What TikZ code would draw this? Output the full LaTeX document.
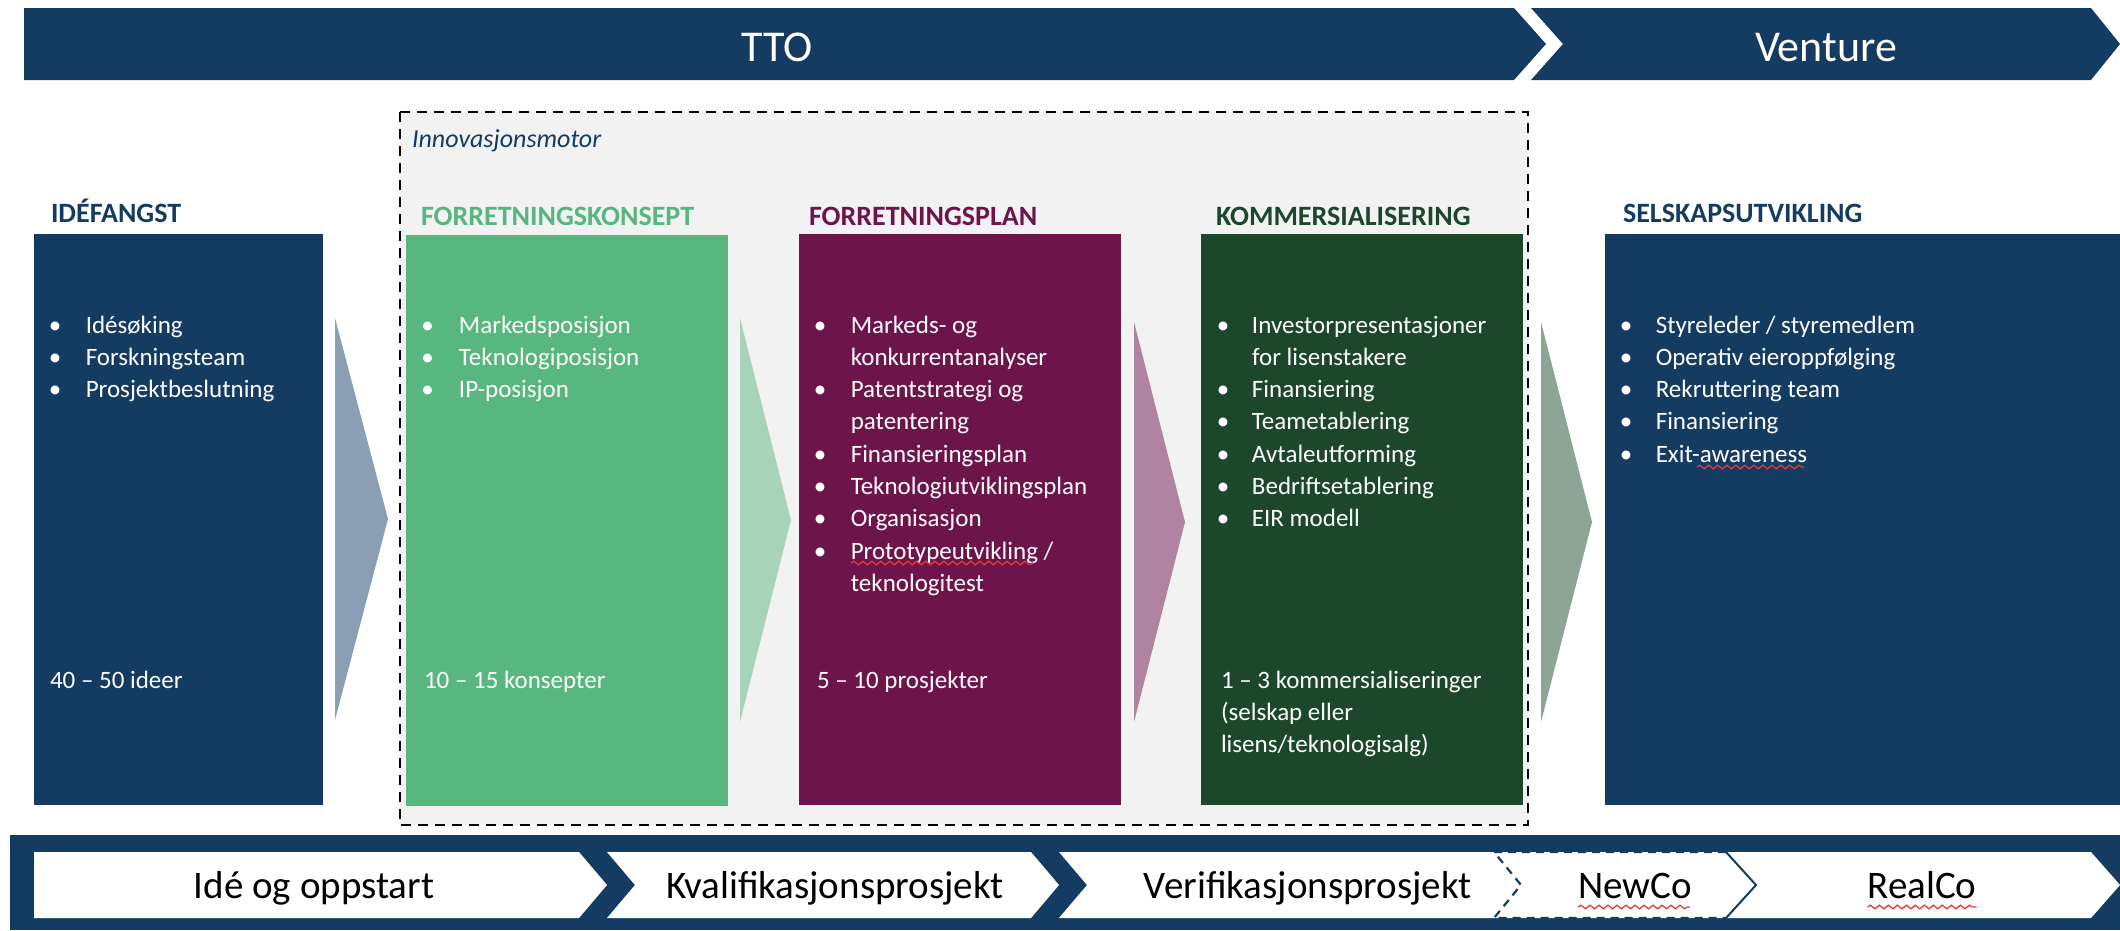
\documentclass[tikz,border=0pt]{standalone}
\usepackage{fontspec}
\setmainfont{Carlito}
\usetikzlibrary{decorations.pathmorphing}
\definecolor{navy}{HTML}{143C62}
\definecolor{kgreen}{HTML}{58B67F}
\definecolor{plum}{HTML}{6D144B}
\definecolor{dgreen}{HTML}{1C472B}
\definecolor{arrA}{HTML}{8A9FB4}
\definecolor{arrB}{HTML}{A7D4B8}
\definecolor{arrC}{HTML}{B083A0}
\definecolor{arrD}{HTML}{8DA594}
\definecolor{motorgray}{HTML}{F2F2F2}
\definecolor{spellred}{HTML}{E03C3C}
\begin{document}
\begin{tikzpicture}[x=1pt,y=-1pt,
  every node/.style={inner sep=0pt,outer sep=0pt},
  banner/.style={fill=navy},
  chev/.style={fill=white},
  hdr/.style={anchor=base west,font=\fontsize{28}{32}\selectfont\bfseries},
  lst/.style={anchor=base west,text=white,font=\fontsize{25}{32.3}\selectfont},
  toplbl/.style={anchor=base,text=white,font=\fontsize{44}{50}\selectfont},
  botlbl/.style={anchor=base,text=black,font=\fontsize{39}{45}\selectfont},
  spell/.style={draw=spellred,line width=1.3pt,decorate,decoration={snake,segment length=9pt,amplitude=1.8pt}},
  motorbox/.style={fill=motorgray,draw=black,line width=2.2pt,dash pattern=on 10pt off 7pt}]
\useasboundingbox (0,0) rectangle (2120,930);

% ---------- top banners
\path[banner] (24,8) -- (1514,8) -- (1546,44) -- (1514,80) -- (24,80) -- cycle;
\path[banner] (1531,8) -- (2091,8) -- (2120,44) -- (2091,80) -- (1531,80) -- (1563,44) -- cycle;
\node[toplbl] (tto) at (777,61) {TTO};
\node[toplbl] (venture) at (1826,61) {Venture};

% ---------- innovasjonsmotor area
\path[motorbox] (400,112) rectangle (1528,825);
\node[anchor=base west,text=navy,font=\fontsize{26}{30}\selectfont\itshape] (motor) at (412,147) {Innovasjonsmotor};

% ---------- phase boxes
\fill[navy]   (34,234) rectangle (323,805);
\fill[kgreen] (406,235) rectangle (728,806);
\fill[plum]   (799,234) rectangle (1121,805);
\fill[dgreen] (1201,234) rectangle (1523,805);
\fill[navy]   (1605,234) rectangle (2120,805);

% ---------- thin arrows
\fill[arrA] (335,318) -- (388,519) -- (335,720) -- cycle;
\fill[arrB] (740,318) -- (791,520) -- (740,722) -- cycle;
\fill[arrC] (1134,322) -- (1185,522) -- (1134,722) -- cycle;
\fill[arrD] (1541,322) -- (1592,522) -- (1541,722) -- cycle;

% ---------- headers
\node[hdr,text=navy]   (h1) at (51,222)   {IDÉFANGST};
\node[hdr,text=kgreen] (h2) at (421,225)  {FORRETNINGSKONSEPT};
\node[hdr,text=plum]   (h3) at (809,225)  {FORRETNINGSPLAN};
\node[hdr,text=dgreen] (h4) at (1216,225) {KOMMERSIALISERING};
\node[hdr,text=navy]   (h5) at (1623,222) {SELSKAPSUTVIKLING};

% ---------- bullet lists
\node[lst] (l1) at (48.8,333) {\begin{tabular}[t]{@{}p{37pt}@{}l@{}}
•&Idésøking\\ •&Forskningsteam\\ •&Prosjektbeslutning\end{tabular}};
\node[lst] (l2) at (421.3,333) {\begin{tabular}[t]{@{}p{37.7pt}@{}l@{}}
•&Markedsposisjon\\ •&Teknologiposisjon\\ •&IP-posisjon\end{tabular}};
\node[lst] (l3) at (813.8,333) {\begin{tabular}[t]{@{}p{37pt}@{}l@{}}
•&Markeds- og\\ &konkurrentanalyser\\ •&Patentstrategi og\\ &patentering\\
•&Finansieringsplan\\ •&Teknologiutviklingsplan\\ •&Organisasjon\\
•&Prototypeutvikling /\\ &teknologitest\end{tabular}};
\node[lst] (l4) at (1216.8,333) {\begin{tabular}[t]{@{}p{35.2pt}@{}l@{}}
•&Investorpresentasjoner\\ &for lisenstakere\\ •&Finansiering\\ •&Teametablering\\
•&Avtaleutforming\\ •&Bedriftsetablering\\ •&EIR modell\end{tabular}};
\node[lst] (l5) at (1619.8,333) {\begin{tabular}[t]{@{}p{36pt}@{}l@{}}
•&Styreleder / styremedlem\\ •&Operativ eieroppfølging\\ •&Rekruttering team\\
•&Finansiering\\ •&Exit-awareness\end{tabular}};

% ---------- counts
\node[lst] (c1) at (50,688)   {40 – 50 ideer};
\node[lst] (c2) at (424,688)  {10 – 15 konsepter};
\node[lst] (c3) at (817,688)  {5 – 10 prosjekter};
\node[lst] (c4) at (1221,688) {\begin{tabular}[t]{@{}l@{}}1 – 3 kommersialiseringer\\ (selskap eller\\ lisens/teknologisalg)\end{tabular}};

% ---------- bottom band
\fill[navy] (10,835) rectangle (2120,930);
\path[chev] (34,852) -- (579,852) -- (607,885) -- (579,918) -- (34,918) -- cycle;
\path[chev] (607,852) -- (1031,852) -- (1059,885) -- (1031,918) -- (607,918) -- (635,885) -- cycle;
\path[chev] (1059,852) -- (2091,852) -- (2120,885) -- (2091,918) -- (1059,918) -- (1087,885) -- cycle;
\draw[navy,line width=2.2pt,dash pattern=on 8pt off 6pt] (1726,852) -- (1494,852) -- (1521,885) -- (1494,918) -- (1726,918);
\draw[navy,line width=2pt] (1726,852) -- (1756,885) -- (1726,918);

\node[botlbl] (b1) at (314,898)  {Idé og oppstart};
\node[botlbl] (b2) at (835,898)  {Kvalifikasjonsprosjekt};
\node[botlbl] (b3) at (1308,898) {Verifikasjonsprosjekt};
\node[botlbl] (b4) at (1635,898) {NewCo};
\node[botlbl] (b5) at (1922,898) {RealCo};

% ---------- spell-check marks
\path[spell] (851,563) -- (1033,563);
\path[spell] (1697,467) -- (1804,467);
\path[spell] (b4.base west) ++(0,9) -- ++(112,0);
\path[spell] (b5.base west) ++(0,9) -- ++(109,0);
\end{tikzpicture}
\end{document}
